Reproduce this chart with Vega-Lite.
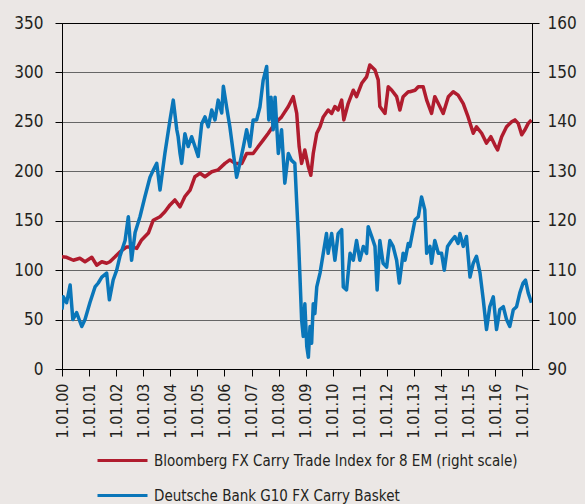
{
  "$schema": "https://vega.github.io/schema/vega-lite/v6.json",
  "width": 470,
  "height": 346,
  "autosize": {"type": "none"},
  "padding": {"left": 62, "top": 23, "right": 53, "bottom": 135},
  "background": "#ebe7e5",
  "config": {
    "font": "DejaVu Sans Condensed",
    "view": {"stroke": "#000000", "strokeWidth": 1},
    "axis": {"labelColor": "#231f20", "domainColor": "#000000", "tickColor": "#000000", "tickSize": 7, "title": null, "labelFont": "DejaVu Sans Condensed"},
    "legend": {"labelFont": "DejaVu Sans Condensed"}
  },
  "datasets": {
    "bloomberg": [
      {"year": 2000.00, "value": 112.7}, {"year": 2000.17, "value": 112.6}, {"year": 2000.42, "value": 112.0}, {"year": 2000.66, "value": 112.4},
      {"year": 2000.85, "value": 111.7}, {"year": 2001.10, "value": 112.6}, {"year": 2001.28, "value": 111.0}, {"year": 2001.47, "value": 111.7},
      {"year": 2001.65, "value": 111.4}, {"year": 2001.77, "value": 111.7}, {"year": 2001.96, "value": 112.7}, {"year": 2002.14, "value": 113.7},
      {"year": 2002.39, "value": 114.7}, {"year": 2002.57, "value": 114.7}, {"year": 2002.76, "value": 114.4}, {"year": 2002.94, "value": 116.1},
      {"year": 2003.19, "value": 117.5}, {"year": 2003.37, "value": 120.1}, {"year": 2003.62, "value": 120.8}, {"year": 2003.80, "value": 121.8},
      {"year": 2003.99, "value": 123.2}, {"year": 2004.17, "value": 124.2}, {"year": 2004.36, "value": 122.8}, {"year": 2004.54, "value": 124.9},
      {"year": 2004.73, "value": 126.2}, {"year": 2004.91, "value": 128.9}, {"year": 2005.10, "value": 129.6}, {"year": 2005.28, "value": 128.9},
      {"year": 2005.53, "value": 129.9}, {"year": 2005.77, "value": 130.3}, {"year": 2006.02, "value": 131.6}, {"year": 2006.20, "value": 132.3},
      {"year": 2006.39, "value": 131.6}, {"year": 2006.64, "value": 131.6}, {"year": 2006.82, "value": 133.6}, {"year": 2007.06, "value": 133.6},
      {"year": 2007.25, "value": 135.0}, {"year": 2007.43, "value": 136.3}, {"year": 2007.62, "value": 137.7}, {"year": 2007.87, "value": 139.7},
      {"year": 2008.11, "value": 141.0}, {"year": 2008.36, "value": 143.1}, {"year": 2008.54, "value": 145.1}, {"year": 2008.67, "value": 141.7},
      {"year": 2008.76, "value": 135.0}, {"year": 2008.85, "value": 131.6}, {"year": 2008.97, "value": 134.3}, {"year": 2009.10, "value": 130.9},
      {"year": 2009.19, "value": 129.2}, {"year": 2009.28, "value": 133.6}, {"year": 2009.41, "value": 137.7}, {"year": 2009.53, "value": 139.0},
      {"year": 2009.65, "value": 141.0}, {"year": 2009.83, "value": 142.4}, {"year": 2009.96, "value": 141.7}, {"year": 2010.08, "value": 143.1},
      {"year": 2010.20, "value": 142.4}, {"year": 2010.33, "value": 144.4}, {"year": 2010.41, "value": 140.4}, {"year": 2010.57, "value": 143.7},
      {"year": 2010.76, "value": 146.4}, {"year": 2010.88, "value": 145.1}, {"year": 2011.07, "value": 147.8}, {"year": 2011.25, "value": 149.1},
      {"year": 2011.37, "value": 151.5}, {"year": 2011.56, "value": 150.5}, {"year": 2011.68, "value": 148.5}, {"year": 2011.74, "value": 143.1},
      {"year": 2011.93, "value": 141.7}, {"year": 2012.05, "value": 147.1}, {"year": 2012.18, "value": 146.4}, {"year": 2012.36, "value": 145.1},
      {"year": 2012.48, "value": 142.4}, {"year": 2012.60, "value": 145.1}, {"year": 2012.79, "value": 146.1}, {"year": 2012.85, "value": 146.1},
      {"year": 2013.04, "value": 146.4}, {"year": 2013.16, "value": 147.1}, {"year": 2013.34, "value": 147.1}, {"year": 2013.47, "value": 144.4},
      {"year": 2013.65, "value": 141.7}, {"year": 2013.77, "value": 145.1}, {"year": 2013.90, "value": 143.7}, {"year": 2014.08, "value": 141.7},
      {"year": 2014.27, "value": 145.1}, {"year": 2014.45, "value": 146.1}, {"year": 2014.63, "value": 145.4}, {"year": 2014.82, "value": 143.7},
      {"year": 2015.00, "value": 141.0}, {"year": 2015.19, "value": 137.7}, {"year": 2015.31, "value": 139.0}, {"year": 2015.50, "value": 137.7},
      {"year": 2015.68, "value": 135.7}, {"year": 2015.84, "value": 137.0}, {"year": 2015.99, "value": 135.3}, {"year": 2016.09, "value": 134.3},
      {"year": 2016.24, "value": 137.0}, {"year": 2016.42, "value": 139.0}, {"year": 2016.61, "value": 140.0}, {"year": 2016.73, "value": 140.4},
      {"year": 2016.85, "value": 139.7}, {"year": 2016.98, "value": 137.4}, {"year": 2017.10, "value": 138.4}, {"year": 2017.22, "value": 139.7},
      {"year": 2017.34, "value": 140.4}
    ],
    "deutsche": [
      {"year": 2000.00, "value": 60}, {"year": 2000.05, "value": 73}, {"year": 2000.17, "value": 67}, {"year": 2000.30, "value": 85},
      {"year": 2000.40, "value": 50}, {"year": 2000.54, "value": 57}, {"year": 2000.73, "value": 43}, {"year": 2000.85, "value": 50},
      {"year": 2001.03, "value": 67}, {"year": 2001.22, "value": 83}, {"year": 2001.34, "value": 87}, {"year": 2001.47, "value": 93},
      {"year": 2001.65, "value": 97}, {"year": 2001.75, "value": 70}, {"year": 2001.89, "value": 90}, {"year": 2002.02, "value": 100},
      {"year": 2002.14, "value": 114}, {"year": 2002.33, "value": 130}, {"year": 2002.45, "value": 154}, {"year": 2002.57, "value": 110},
      {"year": 2002.70, "value": 138}, {"year": 2002.88, "value": 154}, {"year": 2003.06, "value": 174}, {"year": 2003.25, "value": 194},
      {"year": 2003.37, "value": 201}, {"year": 2003.50, "value": 208}, {"year": 2003.62, "value": 181}, {"year": 2003.80, "value": 218},
      {"year": 2003.99, "value": 252}, {"year": 2004.11, "value": 272}, {"year": 2004.24, "value": 242}, {"year": 2004.29, "value": 235},
      {"year": 2004.36, "value": 218}, {"year": 2004.42, "value": 208}, {"year": 2004.54, "value": 238}, {"year": 2004.66, "value": 225},
      {"year": 2004.79, "value": 235}, {"year": 2004.91, "value": 225}, {"year": 2005.03, "value": 215}, {"year": 2005.16, "value": 248},
      {"year": 2005.28, "value": 255}, {"year": 2005.40, "value": 245}, {"year": 2005.53, "value": 262}, {"year": 2005.65, "value": 252},
      {"year": 2005.77, "value": 272}, {"year": 2005.90, "value": 259}, {"year": 2005.96, "value": 286}, {"year": 2006.08, "value": 265},
      {"year": 2006.20, "value": 245}, {"year": 2006.33, "value": 218}, {"year": 2006.45, "value": 194}, {"year": 2006.57, "value": 208},
      {"year": 2006.70, "value": 225}, {"year": 2006.82, "value": 242}, {"year": 2006.94, "value": 225}, {"year": 2007.06, "value": 252},
      {"year": 2007.19, "value": 252}, {"year": 2007.31, "value": 265}, {"year": 2007.43, "value": 292}, {"year": 2007.56, "value": 306},
      {"year": 2007.64, "value": 252}, {"year": 2007.72, "value": 275}, {"year": 2007.80, "value": 242}, {"year": 2007.87, "value": 275},
      {"year": 2007.99, "value": 218}, {"year": 2008.11, "value": 242}, {"year": 2008.23, "value": 188}, {"year": 2008.36, "value": 218},
      {"year": 2008.48, "value": 211}, {"year": 2008.60, "value": 208}, {"year": 2008.67, "value": 168}, {"year": 2008.73, "value": 134},
      {"year": 2008.79, "value": 93}, {"year": 2008.85, "value": 50}, {"year": 2008.91, "value": 33}, {"year": 2008.97, "value": 66},
      {"year": 2009.04, "value": 23}, {"year": 2009.10, "value": 12}, {"year": 2009.16, "value": 43}, {"year": 2009.22, "value": 26},
      {"year": 2009.28, "value": 66}, {"year": 2009.34, "value": 56}, {"year": 2009.41, "value": 83}, {"year": 2009.53, "value": 97},
      {"year": 2009.65, "value": 117}, {"year": 2009.77, "value": 137}, {"year": 2009.83, "value": 117}, {"year": 2009.96, "value": 137},
      {"year": 2010.08, "value": 110}, {"year": 2010.20, "value": 137}, {"year": 2010.33, "value": 141}, {"year": 2010.39, "value": 83},
      {"year": 2010.51, "value": 80}, {"year": 2010.64, "value": 117}, {"year": 2010.76, "value": 110}, {"year": 2010.88, "value": 130},
      {"year": 2011.00, "value": 110}, {"year": 2011.13, "value": 124}, {"year": 2011.25, "value": 117}, {"year": 2011.31, "value": 144},
      {"year": 2011.44, "value": 134}, {"year": 2011.56, "value": 124}, {"year": 2011.64, "value": 80}, {"year": 2011.74, "value": 130},
      {"year": 2011.86, "value": 107}, {"year": 2011.99, "value": 103}, {"year": 2012.11, "value": 130}, {"year": 2012.23, "value": 124},
      {"year": 2012.36, "value": 110}, {"year": 2012.46, "value": 87}, {"year": 2012.60, "value": 117}, {"year": 2012.67, "value": 110},
      {"year": 2012.79, "value": 127}, {"year": 2012.85, "value": 124}, {"year": 2013.04, "value": 151}, {"year": 2013.16, "value": 154},
      {"year": 2013.28, "value": 174}, {"year": 2013.40, "value": 161}, {"year": 2013.47, "value": 117}, {"year": 2013.59, "value": 124},
      {"year": 2013.65, "value": 107}, {"year": 2013.77, "value": 130}, {"year": 2013.90, "value": 117}, {"year": 2014.02, "value": 117},
      {"year": 2014.12, "value": 100}, {"year": 2014.24, "value": 124}, {"year": 2014.39, "value": 130}, {"year": 2014.51, "value": 134},
      {"year": 2014.63, "value": 127}, {"year": 2014.70, "value": 137}, {"year": 2014.82, "value": 124}, {"year": 2014.94, "value": 134},
      {"year": 2015.07, "value": 93}, {"year": 2015.19, "value": 107}, {"year": 2015.31, "value": 114}, {"year": 2015.44, "value": 97},
      {"year": 2015.56, "value": 70}, {"year": 2015.68, "value": 40}, {"year": 2015.80, "value": 63}, {"year": 2015.93, "value": 73},
      {"year": 2016.05, "value": 40}, {"year": 2016.17, "value": 60}, {"year": 2016.30, "value": 63}, {"year": 2016.42, "value": 50},
      {"year": 2016.54, "value": 43}, {"year": 2016.67, "value": 60}, {"year": 2016.79, "value": 63}, {"year": 2016.91, "value": 77},
      {"year": 2017.03, "value": 87}, {"year": 2017.12, "value": 90}, {"year": 2017.22, "value": 77}, {"year": 2017.34, "value": 67}
    ]
  },
  "layer": [
    {
      "data": {"name": "bloomberg"},
      "mark": {"type": "line", "strokeWidth": 3.5, "strokeJoin": "round", "clip": true},
      "encoding": {
        "x": {
          "field": "year", "type": "quantitative",
          "scale": {"domain": [2000, 2017.36], "nice": false, "zero": false},
          "axis": {
            "values": [2000, 2001, 2002, 2003, 2004, 2005, 2006, 2007, 2008, 2009, 2010, 2011, 2012, 2013, 2014, 2015, 2016, 2017],
            "labelExpr": "'1.01.' + (datum.value < 2010 ? '0' : '') + (datum.value - 2000)",
            "labelAngle": -90, "labelFontSize": 16, "labelPadding": 7, "grid": false, "labelOverlap": false, "labelBound": false, "labelFlush": false
          }
        },
        "y": {
          "field": "value", "type": "quantitative",
          "scale": {"domain": [90, 160], "nice": false, "zero": false},
          "axis": {"orient": "right", "values": [90, 100, 110, 120, 130, 140, 150, 160], "grid": false, "labelFontSize": 17, "labelPadding": 8, "labelBound": false, "labelFlush": false, "labelOverlap": false}
        },
        "color": {
          "datum": "Bloomberg FX Carry Trade Index for 8 EM (right scale)", "type": "nominal",
          "scale": {"domain": ["Bloomberg FX Carry Trade Index for 8 EM (right scale)", "Deutsche Bank G10 FX Carry Basket"], "range": ["#b01c2e", "#0a76b9"]},
          "legend": {
            "orient": "none", "legendX": 34, "legendY": 411, "title": null,
            "symbolType": "stroke", "symbolSize": 2500, "symbolStrokeWidth": 3,
            "labelFontSize": 15, "labelColor": "#231f20", "labelOffset": 5, "labelLimit": 600, "rowPadding": -18
          }
        }
      }
    },
    {
      "data": {"name": "deutsche"},
      "mark": {"type": "line", "strokeWidth": 3.5, "strokeJoin": "round", "clip": true},
      "encoding": {
        "x": {
          "field": "year", "type": "quantitative",
          "scale": {"domain": [2000, 2017.36], "nice": false, "zero": false},
          "axis": {
            "values": [2000, 2001, 2002, 2003, 2004, 2005, 2006, 2007, 2008, 2009, 2010, 2011, 2012, 2013, 2014, 2015, 2016, 2017],
            "labelExpr": "'1.01.' + (datum.value < 2010 ? '0' : '') + (datum.value - 2000)",
            "labelAngle": -90, "labelFontSize": 16, "labelPadding": 7, "grid": false, "labelOverlap": false, "labelBound": false, "labelFlush": false
          }
        },
        "y": {
          "field": "value", "type": "quantitative",
          "scale": {"domain": [0, 350], "nice": false, "zero": false},
          "axis": {
            "orient": "left", "values": [0, 50, 100, 150, 200, 250, 300, 350], "grid": true,
            "gridColor": {"condition": {"test": "datum.value == 350 || datum.value == 0", "value": "#000000"}, "value": "#666666"},
            "labelFontSize": 17, "labelPadding": 12, "labelBound": false, "labelFlush": false, "labelOverlap": false
          }
        },
        "color": {"datum": "Deutsche Bank G10 FX Carry Basket", "type": "nominal"}
      }
    }
  ],
  "resolve": {"scale": {"y": "independent"}}
}
